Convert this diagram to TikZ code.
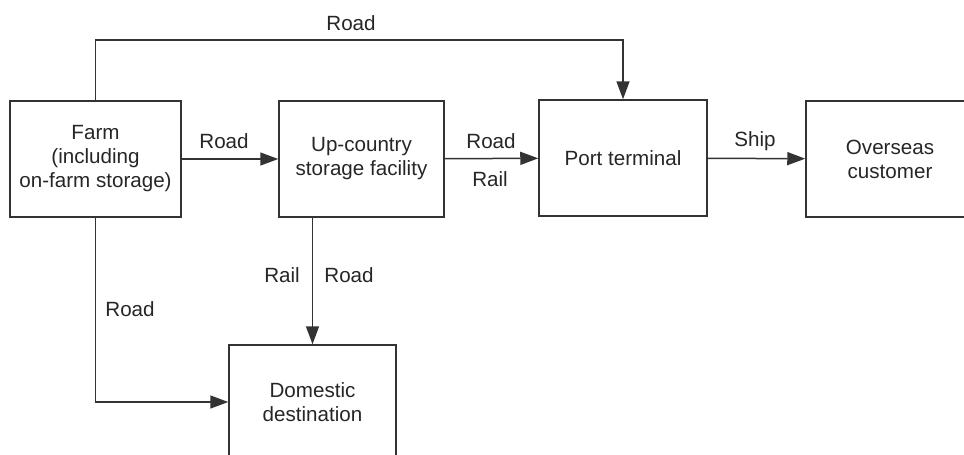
\documentclass[tikz,border=0pt]{standalone}
\usepackage{fontspec}
\setmainfont{Liberation Sans}
\usetikzlibrary{arrows.meta}
\begin{document}
\begin{tikzpicture}[x=0.5pt,y=-0.5pt,font=\fontsize{10.3}{12}\selectfont,
  box/.style={draw=black!80,line width=0.75pt,align=center,text=black!85,minimum height=58pt},
  arr/.style={draw=black!80,line width=0.75pt,-{Triangle[length=9pt,width=6.5pt]}},
  lbl/.style={text=black!85,inner sep=0pt}]
\clip (0,0) rectangle (964,455);

\node[box,minimum width=85.5pt] (farm) at (95.5,159) {Farm\\(including\\on-farm storage)};
\node[box,minimum width=82.5pt] (upc) at (361.5,159) {Up-country\\storage facility};
\node[box,minimum width=84pt] (port) at (623,158) {Port terminal};
\node[box,minimum width=84pt] (over) at (890,159) {Overseas\\customer};
\node[box,minimum width=83.5pt,minimum height=57pt] (dom) at (312.5,402) {Domestic\\destination};

\coordinate (top) at (0,40);

\draw[arr] (farm.north) -- (farm.north |- top) -| (port.north);
\draw[arr] (farm) -- (upc);
\draw[arr] (upc) -- (port);
\draw[arr] (port) -- (over);
\draw[arr] (farm.south) |- (dom.west);
\draw[arr] (upc.south -| dom.north) -- (dom.north);

\node[lbl] (r1) at (351,23) {Road};
\node[lbl] (r2) at (224,141) {Road};
\node[lbl] (r3) at (491,141) {Road};
\node[lbl] (r4) at (490,179) {Rail};
\node[lbl] (s1) at (755,141) {Ship};
\node[lbl] (r5) at (130,309) {Road};
\node[lbl] (r6) at (282,275) {Rail};
\node[lbl] (r7) at (349,275) {Road};
\end{tikzpicture}
\end{document}
